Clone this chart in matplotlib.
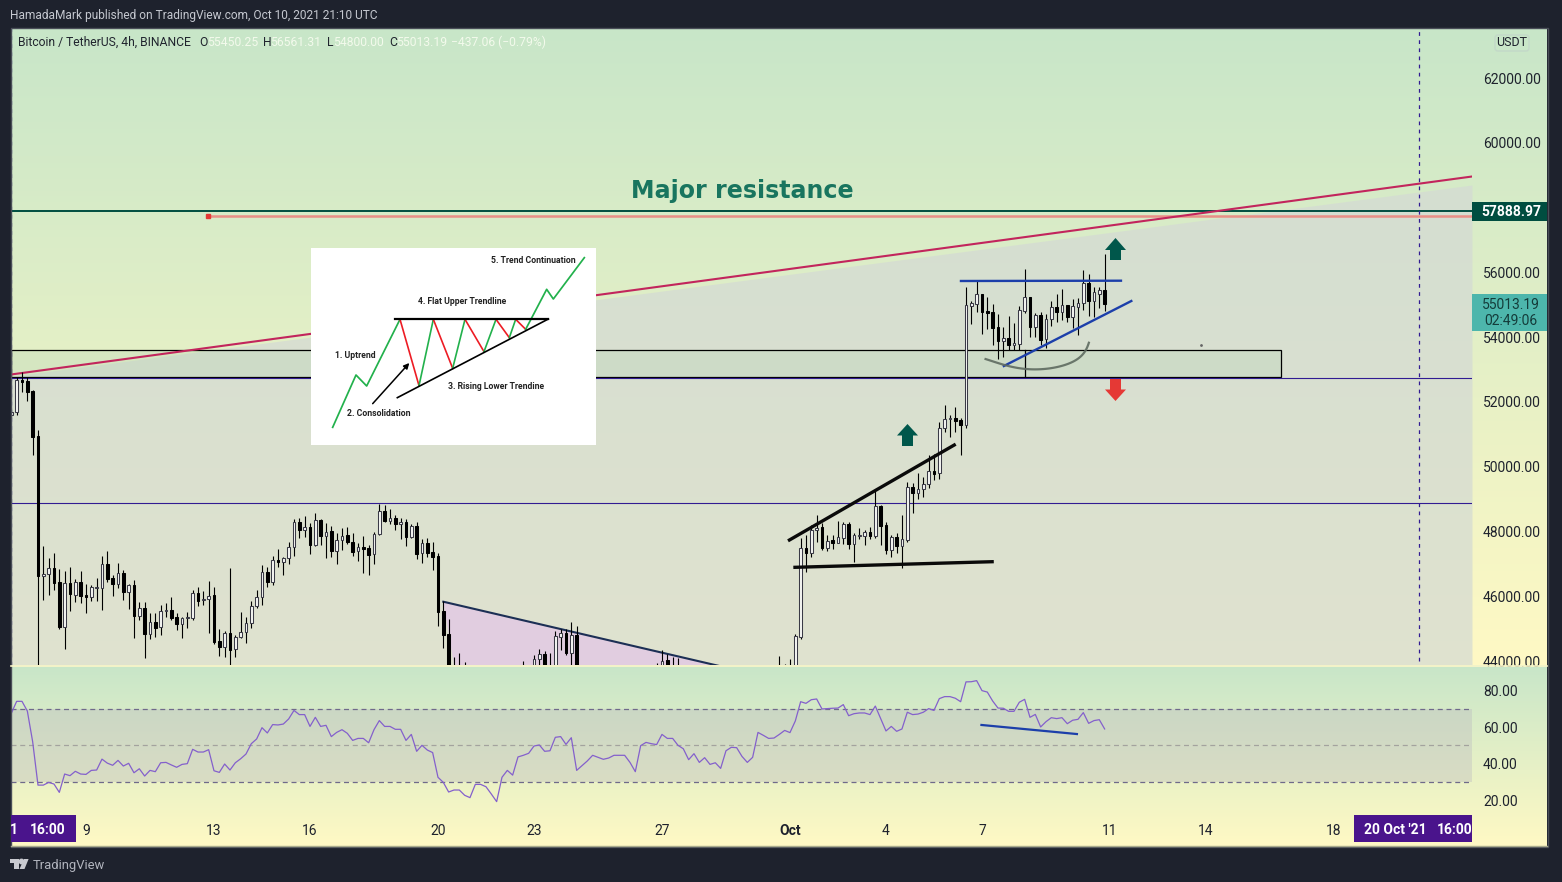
import numpy as np
import matplotlib
matplotlib.use("Agg")
import matplotlib.pyplot as plt
from matplotlib.patches import Rectangle, Polygon, FancyBboxPatch

plt.rcParams['font.family'] = ['Roboto', 'DejaVu Sans']

W, H = 1562, 882

# ---------------- DATA ----------------
bars_left = list(range(-146, -63))
bars_mid = [-63, -62, -61, -50, -48, -47, -46, -45, -44, -43, -42, -41, -40, -25, -24, -23, -22, -21, -2, -1, 0]
bars_right = list(range(1, 60))

opens_left = [51596, 51699, 52677, 52656, 52347, 50948, 46626, 46678, 46863, 46441, 45062, 46400, 46050, 46441, 46040, 45988, 46256, 46266, 46986, 46564, 46390, 46708, 46143, 46348, 45401, 45638, 44825, 45196, 45041, 45535, 45576, 45350, 45155, 45319, 45319, 46091, 45875, 45906, 46040, 44619, 44445, 44856, 44362, 44733, 44908, 45165, 45710, 45968, 46749, 46451, 47120, 47069, 47172, 47532, 48283, 48046, 48149, 47583, 48355, 47871, 48005, 47408, 47727, 47892, 47686, 47388, 47521, 47480, 47295, 47912, 48633, 48334, 48406, 48242, 48283, 47840, 48170, 47326, 47634, 47357, 47243, 45546, 44825]
highs_left = [51800, 52780, 52934, 52780, 52368, 51133, 47552, 47172, 47326, 46832, 46780, 46893, 46523, 46780, 46379, 46348, 46554, 47243, 47398, 46657, 47038, 46811, 46379, 46503, 45813, 45813, 45474, 45474, 45731, 45782, 45968, 45474, 45371, 45525, 46194, 46276, 46163, 46472, 46276, 44980, 44938, 46863, 44805, 45504, 45350, 45865, 46194, 46966, 46914, 47243, 47460, 47223, 47686, 48386, 48427, 48489, 48252, 48561, 48375, 48252, 48170, 47943, 48098, 48128, 47964, 47634, 47871, 47583, 47974, 48838, 48818, 48694, 48509, 48406, 48386, 48231, 48303, 47768, 47789, 47665, 47346, 45865, 45288]
lows_left = [51500, 51596, 52316, 52039, 50361, 42800, 45885, 46040, 46194, 44990, 44383, 45546, 45834, 45803, 45494, 45854, 45854, 45577, 46451, 46009, 46245, 45885, 45607, 44722, 45268, 44105, 44681, 44753, 44805, 45371, 45268, 44959, 44722, 45031, 45268, 45700, 45731, 44856, 44517, 44167, 44115, 43400, 44136, 44702, 44547, 45031, 45628, 45731, 46297, 46348, 46893, 46657, 47002, 47254, 47809, 47840, 47305, 47552, 47583, 47192, 47223, 47002, 47429, 47614, 47243, 47089, 46708, 46657, 47002, 47892, 48283, 48231, 48046, 47768, 47552, 47789, 47151, 47038, 47202, 46811, 45083, 44414, 43000]
closes_left = [51699, 52677, 52625, 52316, 50927, 46626, 46678, 46863, 46420, 45041, 46400, 46070, 46441, 46019, 45988, 46276, 46276, 46986, 46544, 46390, 46708, 46143, 46348, 45391, 45628, 44836, 45196, 45031, 45546, 45566, 45319, 45144, 45319, 45350, 46091, 45865, 45906, 46019, 44578, 44445, 44856, 44342, 44753, 44908, 45165, 45710, 45968, 46739, 46451, 47120, 47069, 47172, 47532, 48283, 48046, 48128, 47583, 48345, 47871, 47995, 47408, 47727, 47871, 47686, 47377, 47511, 47470, 47274, 47923, 48622, 48324, 48406, 48242, 48283, 47840, 48170, 47305, 47634, 47346, 47223, 45525, 44805, 43500]

opens_mid = [43400, 43300, 43600, 43300, 43200, 44053, 44217, 43600, 43400, 44752, 44855, 44258, 44804, 43500, 43600, 44032, 43400, 43500, 43300, 43500, 43600]
highs_mid = [44135, 44238, 43960, 44002, 44186, 44372, 44300, 44238, 44927, 44989, 44979, 45195, 45082, 43930, 44341, 44218, 44115, 44084, 44155, 43910, 44053]
lows_mid = [43000, 42900, 43000, 42800, 43000, 43700, 43300, 43300, 43200, 44341, 44186, 43700, 43300, 43100, 43400, 43300, 43100, 43200, 43000, 43200, 43300]
closes_mid = [43700, 43600, 43200, 43500, 44063, 44207, 43600, 43700, 44773, 44855, 44238, 44804, 43500, 43700, 44012, 43500, 43700, 43300, 43600, 43700, 43750]

opens_right = [43700, 44753, 47480, 47346, 48046, 48128, 47500, 47727, 47655, 47809, 48231, 47624, 47861, 47871, 47984, 47871, 48787, 48190, 47439, 47830, 47562, 47737, 49363, 49198, 49301, 49456, 49857, 49795, 51184, 51462, 51493, 51442, 51287, 54971, 55023, 55331, 54806, 54776, 54302, 53891, 53973, 53757, 53788, 54817, 55228, 54323, 54683, 53952, 54549, 54920, 54786, 54981, 54632, 54940, 55043, 55681, 55125, 55342, 55450.25]
highs_right = [44835, 47809, 47892, 48200, 48509, 48252, 47892, 47892, 48324, 48293, 48293, 47964, 48108, 48046, 48139, 49281, 48818, 48303, 47892, 47943, 48509, 49517, 49486, 49795, 49672, 50361, 50382, 51380, 51905, 51596, 51833, 51493, 55558, 55125, 55763, 55331, 55228, 55023, 54714, 54323, 54652, 54426, 54961, 56103, 55249, 54734, 54765, 54714, 55115, 55331, 55486, 54992, 55167, 55198, 56072, 55949, 55558, 55537, 56561.31]
lows_right = [43500, 44691, 46739, 47223, 47686, 47428, 47408, 47470, 47634, 47614, 47470, 47058, 47778, 47583, 47768, 47809, 47583, 47315, 47223, 47346, 46883, 47675, 48560, 49013, 49075, 49353, 49579, 49631, 51081, 50907, 51081, 50361, 51200, 54405, 54786, 54096, 54241, 53757, 53325, 53397, 53603, 53603, 53603, 54734, 54014, 53994, 53757, 53654, 54343, 54467, 54529, 54477, 54292, 54065, 54837, 54652, 54611, 54889, 54800]
closes_right = [44774, 47480, 47346, 48046, 48118, 47500, 47717, 47655, 47820, 48221, 47624, 47881, 47881, 47984, 47871, 48787, 48180, 47439, 47820, 47562, 47758, 49363, 49198, 49301, 49456, 49857, 49785, 51184, 51462, 51493, 51421, 51287, 54992, 55043, 55331, 54776, 54755, 54292, 53891, 53973, 53757, 53808, 54837, 55228, 54323, 54683, 53911, 54560, 54920, 54776, 54981, 54621, 54961, 55043, 55661, 55125, 55383, 55455, 55013.19]

rsi_values = [67.7, 74.3, 74.3, 69.0, 52.1, 28.2, 28.2, 29.7, 28.8, 24.2, 34.3, 33.4, 35.8, 34.3, 34.1, 36.3, 36.5, 42.5, 40.3, 39.1, 41.8, 38.7, 40.2, 35.0, 37.2, 33.2, 36.3, 35.6, 40.5, 40.7, 39.3, 38.0, 39.6, 40.0, 47.9, 46.4, 46.4, 47.7, 36.1, 35.2, 39.8, 36.5, 40.5, 42.7, 45.3, 51.0, 53.6, 59.8, 56.9, 61.5, 61.3, 61.8, 64.6, 69.3, 67.0, 67.0, 60.5, 65.5, 60.5, 61.1, 54.9, 57.2, 58.7, 56.7, 52.8, 53.9, 53.9, 51.5, 58.7, 63.7, 60.5, 60.5, 58.9, 58.9, 52.8, 56.1, 46.8, 50.1, 47.5, 46.1, 32.5, 29.7, 24.4, 25.5, 25.5, 22.6, 21.3, 28.6, 28.6, 27.3, 23.3, 19.1, 32.5, 36.3, 33.7, 43.7, 44.6, 45.7, 49.7, 50.3, 46.8, 47.1, 54.5, 54.9,
              50.6, 54.3, 36.3, 38.9, 41.5, 44.6, 43.5, 42.4, 43.1, 44.6, 44.6, 44.6, 40.7, 35.6, 49.9, 51.7, 51.0, 50.5, 56.1, 53.9, 53.9, 50.1, 48.2, 42.2, 45.5, 40.7, 43.3, 39.6, 40.5, 37.4, 47.1, 49.0, 48.8, 44.0, 40.7, 43.5, 57.2, 55.6, 53.9, 54.1, 56.1, 58.3, 57.1, 63.5, 74.1, 73.2, 75.2, 75.6, 70.1, 70.3, 70.5, 70.6, 72.5, 66.4, 67.5, 67.9, 67.9, 67.0, 71.7, 64.9, 58.0, 60.5, 57.8, 59.1, 68.3, 67.0, 67.3, 68.3, 70.3, 69.3, 75.8, 76.9, 76.9, 76.0, 74.1, 85.0, 85.1, 85.7, 80.2, 79.4, 74.5, 70.6, 70.5, 68.8, 68.8, 73.8, 75.4, 65.5, 67.1, 60.2, 63.1, 65.3, 64.8, 65.3, 62.0, 63.9, 64.4, 68.1, 62.2, 63.7, 64.2, 59.1]

price_ticks = [44000, 46000, 48000, 50000, 52000, 54000, 56000, 58000, 60000, 62000]
rsi_ticks = [20, 40, 60, 80]
time_tick_bars = [-132, -108, -90, -66, -48, -24, 0, 18, 36, 60, 78, 102]
time_tick_labels = ['9', '13', '16', '20', '23', '27', 'Oct', '4', '7', '11', '14', '18']

resistance_level = 57888.97
salmon_level = 57755
purple_levels = [52753, 48894]
red_trend_bars, red_trend_prices = [-146.06, 127.88], [52846, 58959]
shade_bars, shade_prices = [-146.06, 127.88], [52790, 58696]
box_bars, box_prices = [-146.06, 92.1], [52769, 53602]
wedge_bars, wedge_prices = [-65, 10, -61], [45831, 42954, 41923]
upper_black_bars, upper_black_prices = [-0.1, 30.8], [47736, 50669]
lower_black_bars, lower_black_prices = [0.94, 37.9], [46893, 47066]
flat_blue_bars, flat_blue_prices = [32.06, 62.06], [55733, 55742]
rise_blue_bars, rise_blue_prices = [40.1, 64], [53108, 55115]
rsi_blue_bars, rsi_blue_values = [35.9, 53.8], [61.3, 56.3]

# ---------------- HELPERS ----------------
def axes_px(left, top, right, bottom, **kw):
    return fig.add_axes([left / W, 1 - bottom / H, (right - left) / W, (bottom - top) / H], **kw)

fig = plt.figure(figsize=(W / 100, H / 100), dpi=100, facecolor='#1e222d')

GREEN = np.array([200, 230, 201]) / 255
YELLOW = np.array([255, 249, 196]) / 255
def gradient(ax):
    g = np.linspace(0, 1, 256)[:, None]
    img = (GREEN[None, None, :] * (1 - g[:, :, None]) + YELLOW[None, None, :] * g[:, :, None])
    ax.imshow(img, aspect='auto', extent=(0, 1, 0, 1), origin='upper', interpolation='bilinear')
    ax.set_axis_off()

gradient(axes_px(11, 28, 1547, 665, zorder=0))
gradient(axes_px(11, 665, 1547, 846, zorder=0))

# ---------------- MAIN PANE ----------------
ax = axes_px(11, 28, 1472, 665, zorder=2)
ax.patch.set_alpha(0)
for s in ax.spines.values():
    s.set_visible(False)
ax.set_xlim(-146.06, 127.88)
ax.set_ylim(43877, 63544)
ax.xaxis.set_visible(False)
ax.yaxis.tick_right()
ax.set_yticks(price_ticks)
ax.set_yticklabels([f'{p:.2f}' for p in price_ticks], fontsize=10, color='#1e222d')
ax.tick_params(axis='y', length=0, pad=8)

# shaded band below the rising line
ax.fill_between(shade_bars, shade_prices, [43877, 43877], color='#d4dad4', alpha=0.73, lw=0, zorder=1)

# support box
ax.add_patch(Rectangle((box_bars[0], box_prices[0]), box_bars[1] - box_bars[0], box_prices[1] - box_prices[0],
                       facecolor='#b9d6b8', alpha=0.35, edgecolor='none', zorder=1.5))
ax.add_patch(Rectangle((box_bars[0], box_prices[0]), box_bars[1] - box_bars[0], box_prices[1] - box_prices[0],
                       facecolor='none', edgecolor='black', lw=0.9, zorder=2))

ax.add_patch(Polygon(np.column_stack([wedge_bars, wedge_prices]), closed=True, facecolor='#e1cde0', edgecolor='none', zorder=2))
ax.plot(wedge_bars[:2], wedge_prices[:2], color='#1c2f55', lw=1.5, zorder=3)

ax.axhline(resistance_level, color='#004d40', lw=1.4, zorder=3)
ax.plot([-109.1, 127.88], [salmon_level, salmon_level], color='#e88f86', lw=1.8, zorder=3)
ax.plot([-109.1], [salmon_level], marker='s', ms=3.2, color='#e53935', zorder=4)
for lvl in purple_levels:
    ax.axhline(lvl, color='#311b92', lw=0.8, zorder=3)
ax.plot(red_trend_bars, red_trend_prices, color='#c2255c', lw=1.5, zorder=3)
ax.axvline(118, color='#311b92', lw=0.9, ls=(0, (3, 3.5)), ymin=0.006, zorder=3)
ax.axvline(-146, color='#311b92', lw=0.9, ls=(0, (3, 3.5)), zorder=3)

# candles
bars = np.array(bars_left + bars_mid + bars_right, dtype=float)
opens = np.array(opens_left + opens_mid + opens_right, dtype=float)
highs = np.array(highs_left + highs_mid + highs_right, dtype=float)
lows = np.array(lows_left + lows_mid + lows_right, dtype=float)
closes = np.array(closes_left + closes_mid + closes_right, dtype=float)
up = closes >= opens
ax.vlines(bars, lows, highs, color='black', lw=0.8, zorder=4)
ax.bar(bars[up], (closes - opens)[up], bottom=opens[up], width=0.48, facecolor='#f4f5f2',
       edgecolor='#3a3a46', lw=0.75, zorder=5)
ax.bar(bars[~up], (opens - closes)[~up], bottom=closes[~up], width=0.48, facecolor='black',
       edgecolor='black', lw=0.75, zorder=5)

# trend lines
ax.plot(upper_black_bars, upper_black_prices, color='#0a0a0a', lw=2.4, zorder=6)
ax.plot(lower_black_bars, lower_black_prices, color='#0a0a0a', lw=2.4, zorder=6)
ax.plot(flat_blue_bars, flat_blue_prices, color='#1c3faa', lw=1.7, zorder=6)
ax.plot(rise_blue_bars, rise_blue_prices, color='#1c3faa', lw=1.7, zorder=6)
ax.plot([44, 44], [52790, 53600], color='black', lw=0.9, zorder=4)
ax.text(-9.0, 58520, 'Major resistance', color='#19755f', fontsize=17.1, fontweight='bold',
        family='DejaVu Sans', ha='center', va='center', zorder=6)

# ---------------- RSI PANE ----------------
rx = axes_px(11, 665, 1472, 812, zorder=2)
rx.patch.set_alpha(0)
for s in rx.spines.values():
    s.set_visible(False)
rx.set_xlim(-146.06, 127.88)
rx.set_ylim(13.4, 94.3)
rx.yaxis.tick_right()
rx.set_yticks(rsi_ticks)
rx.set_yticklabels([f'{v:.2f}' for v in rsi_ticks], fontsize=10, color='#1e222d')
rx.tick_params(axis='y', length=0, pad=8)
rx.set_xticks(time_tick_bars)
rx.set_xticklabels(time_tick_labels, fontsize=10, color='#1e222d')
rx.tick_params(axis='x', length=0, pad=8.7)
for lab in rx.get_xticklabels():
    if lab.get_text() == 'Oct':
        lab.set_fontweight('bold')
rx.axhspan(30, 70, color='#b6b2c0', alpha=0.33, lw=0, zorder=1)
rx.axhline(70, color='#6f6a8a', lw=0.9, ls=(0, (4, 3)), zorder=2)
rx.axhline(50, color='#a3a39e', lw=0.9, ls=(0, (4, 3)), zorder=2)
rx.axhline(30, color='#6f6a8a', lw=0.9, ls=(0, (4, 3)), zorder=2)
rx.plot(np.arange(-146, -146 + len(rsi_values)), rsi_values, color='#8460cc', lw=0.9, zorder=3)
rx.plot(rsi_blue_bars, rsi_blue_values, color='#1c3faa', lw=1.6, zorder=4)

# ---------------- OVERLAY (pixel coordinates) ----------------
d = fig.add_axes([0, 0, 1, 1], zorder=5)
d.patch.set_alpha(0)
d.set_xlim(0, W)
d.set_ylim(H, 0)
d.set_axis_off()

# panel frame and pane separator
d.add_patch(Rectangle((10.5, 27.5), 1537, 819, facecolor='none', edgecolor='#4a4e58', lw=1))
d.plot([11, 1547], [665.5, 665.5], color='#fbf6c8', lw=1.2)
d.plot([11, 1547], [846, 846], color='#a9ab8c', lw=1)

d.text(10, 15, 'HamadaMark published on TradingView.com, Oct 10, 2021 21:10 UTC', color='#c5c8d0', fontsize=8.6, va='center')
d.text(18, 42, 'Bitcoin / TetherUS, 4h, BINANCE', color='#20242e', fontsize=8.7, va='center')
pale = '#f3faec'
for x, s, c in [(199, 'O', '#20242e'), (207, '55450.25', pale), (263, 'H', '#20242e'), (270, '56561.31', pale),
                (327, 'L', '#20242e'), (333, '54800.00', pale), (389, 'C', '#20242e'), (396, '55013.19', pale),
                (451, '\u2212437.06 (\u22120.79%)', pale)]:
    d.text(x, 42, s, color=c, fontsize=8.7, va='center')

# USDT tag
d.add_patch(FancyBboxPatch((1495, 35), 34, 16, boxstyle='round,pad=0,rounding_size=3', facecolor='none', edgecolor='#c3d8c8', lw=1))
d.text(1512, 43, 'USDT', fontsize=9, color='#1e222d', ha='center', va='center')

# price badges
d.add_patch(Rectangle((1472, 202), 75, 19, facecolor='#004d40', edgecolor='none'))
d.text(1511, 212, '57888.97', color='white', fontsize=10, fontweight='bold', ha='center', va='center')
d.add_patch(Rectangle((1472, 294), 75, 37, facecolor='#4db6ac', edgecolor='none'))
d.text(1511, 305, '55013.19', color='#143c3a', fontsize=10, ha='center', va='center')
d.text(1511, 321, '02:49:06', color='#143c3a', fontsize=10, ha='center', va='center')

# time badges
d.add_patch(Rectangle((11, 815), 65, 27, facecolor='#4a148c', edgecolor='none'))
d.text(14, 830, '1', color='white', fontsize=10, fontweight='bold', ha='center', va='center')
d.text(48, 830, '16:00', color='white', fontsize=10, fontweight='bold', ha='center', va='center')
d.add_patch(Rectangle((1354, 815), 118, 27, facecolor='#4a148c', edgecolor='none'))
d.text(1395, 830, "20 Oct '21", color='white', fontsize=10, fontweight='bold', ha='center', va='center')
d.text(1455, 830, '16:00', color='white', fontsize=10, fontweight='bold', ha='center', va='center')

# arrows
def arrow(cx, top, bottom, neck, color, down=False):
    hw, sw = 10.5, 5.5
    if not down:
        pts = [(cx, top), (cx + hw, neck), (cx + sw, neck), (cx + sw, bottom), (cx - sw, bottom), (cx - sw, neck), (cx - hw, neck)]
    else:
        pts = [(cx, bottom), (cx + hw, neck), (cx + sw, neck), (cx + sw, top), (cx - sw, top), (cx - sw, neck), (cx - hw, neck)]
    d.add_patch(Polygon(pts, closed=True, facecolor=color, edgecolor='none'))

arrow(907.5, 424, 446, 435.5, '#00574b')
arrow(1115.5, 238, 260, 250, '#00574b')
arrow(1115.5, 379, 401, 389.5, '#e53935', down=True)

# curved sketch (smoothed through hand-read points)
arc_x = [985.7, 1003.3, 1023.3, 1040, 1056.7, 1073.3, 1081.7, 1089]
arc_y = [359, 365, 368.3, 369.3, 367.3, 361.7, 355, 342.7]
t = np.linspace(0, 1, len(arc_x))
tt = np.linspace(0, 1, 80)
d.plot(np.polyval(np.polyfit(t, arc_x, 5), tt), np.polyval(np.polyfit(t, arc_y, 5), tt), color='#5e6b60', lw=1.6, alpha=0.9)
d.plot([1201], [345], marker='o', ms=1, color='#666666')

# inset diagram
d.add_patch(Rectangle((311, 248), 285, 197, facecolor='white', edgecolor='none', zorder=3))
ix = lambda v: 300 + np.asarray(v) / 3
iy = lambda v: 240 + np.asarray(v) / 3
g, r = '#22b14c', '#ed1c24'
d.plot(ix([98, 168, 200, 300]), iy([562, 405, 438, 238]), color=g, lw=1.25, zorder=4)
for xs, ys, c in [([300, 357], [238, 437], r), ([357, 400], [437, 238], g), ([400, 458], [238, 385], r),
                  ([458, 495], [385, 238], g), ([495, 552], [238, 335], r), ([552, 588], [335, 238], g),
                  ([588, 628], [238, 293], r), ([628, 647], [293, 238], g), ([647, 677], [238, 268], r)]:
    d.plot(ix(xs), iy(ys), color=c, lw=1.2, zorder=4)
d.plot(ix([677, 740, 760, 853]), iy([268, 148, 177, 53]), color=g, lw=1.25, zorder=4)
d.plot(ix([285, 745]), iy([237, 237]), color='black', lw=1.6, zorder=5)
d.plot(ix([292, 745]), iy([473, 237]), color='black', lw=1.2, zorder=5)
d.annotate('', xy=(ix(328), iy(369)), xytext=(ix(218), iy(491)), zorder=5,
           arrowprops=dict(arrowstyle='-|>', color='black', lw=1.1, mutation_scale=8, shrinkA=0, shrinkB=0))
for x, y, s in [(105, 347, '1. Uptrend'), (140, 520, '2. Consolidation'), (443, 440, '3. Rising Lower Trendine'),
                (355, 183, '4. Flat Upper Trendline'), (572, 62, '5. Trend Continuation')]:
    d.text(ix(x), iy(y), s, fontsize=6.2, fontweight='bold', color='#222222', va='center', zorder=6)

# footer logo
d.add_patch(Polygon([(10, 859), (18.5, 859), (18.5, 869), (14, 869), (14, 863), (10, 863)], closed=True, facecolor='#c8cad0', edgecolor='none'))
d.plot([21], [861], marker='o', ms=3.2, color='#c8cad0')
d.add_patch(Polygon([(24, 859), (28.6, 859), (24.5, 869), (19.5, 869)], closed=True, facecolor='#c8cad0', edgecolor='none'))
d.text(33, 865, 'TradingView', color='#b2b5be', fontsize=9.4, va='center')

fig.savefig('out.png', dpi=100, facecolor=fig.get_facecolor())
